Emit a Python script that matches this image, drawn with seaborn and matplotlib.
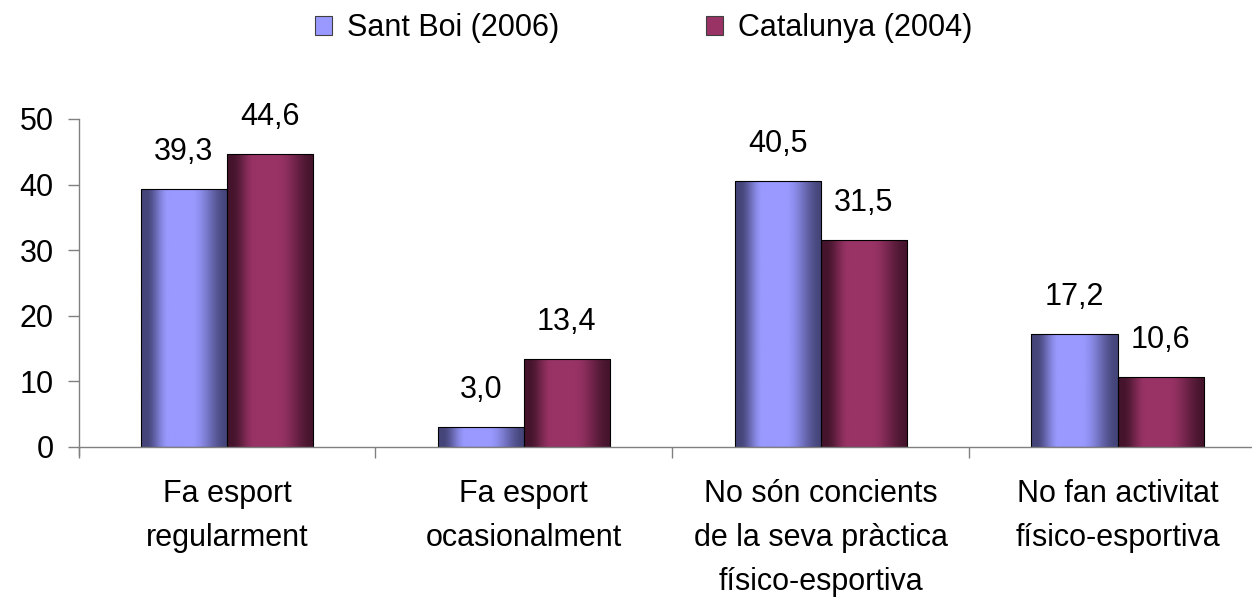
import numpy as np
import pandas as pd
import matplotlib
matplotlib.use("Agg")
import matplotlib.pyplot as plt
import seaborn as sns
from matplotlib.colors import LinearSegmentedColormap
from matplotlib.patches import Rectangle

categories = ["Fa esport\nregularment", "Fa esport\nocasionalment",
              "No són concients\nde la seva pràctica\nfísico-esportiva",
              "No fan activitat\nfísico-esportiva"]
series = ["Sant Boi (2006)", "Catalunya (2004)"]
sant_boi = [39.3, 3.0, 40.5, 17.2]
catalunya = [44.6, 13.4, 31.5, 10.6]
colors = ["#9999FF", "#993366"]
dark = ["#45457a", "#45142c"]

df = pd.DataFrame({
    "cat": categories * 2,
    "serie": [series[0]] * 4 + [series[1]] * 4,
    "val": sant_boi + catalunya,
})

sns.set_theme(style="white")
plt.rcParams["font.family"] = ["Liberation Sans", "DejaVu Sans"]
plt.rcParams["text.color"] = "black"
plt.rcParams["xtick.color"] = "black"
plt.rcParams["ytick.color"] = "black"

FS = 22

fig = plt.figure(figsize=(12.52, 6.02), dpi=100)
ax = fig.add_axes([0.0627, 0.2575, 0.9485, 0.545])

sns.barplot(data=df, x="cat", y="val", hue="serie", order=categories,
            hue_order=series, palette=colors, width=0.58, ax=ax,
            edgecolor="black", linewidth=0.8, legend=False)


def smooth(a, b, x):
    s = np.clip((x - a) / (b - a), 0, 1)
    return s * s * (3 - 2 * s)


# horizontal "cylinder" shading: dark at both edges, bright band left of centre
t = np.linspace(0, 1, 256)
profile = smooth(0.05, 0.32, t) * (1 - smooth(0.58, 1.0, t))

for i, p in enumerate(list(ax.patches)):
    k = i // 4
    cmap = LinearSegmentedColormap.from_list("g", [dark[k], colors[k]])
    x0, y0 = p.get_x(), p.get_y()
    w, h = p.get_width(), p.get_height()
    im = ax.imshow(profile[np.newaxis, :], cmap=cmap, vmin=0, vmax=1,
                   extent=[x0, x0 + w, y0, y0 + h], aspect="auto",
                   zorder=p.get_zorder() - 0.1, interpolation="bilinear")
    im.set_clip_path(p)
    p.set_facecolor("none")
    p.set_zorder(p.get_zorder() + 0.2)
    txt = f"{h:.1f}".replace(".", ",")
    ax.annotate(txt, (x0 + w / 2, y0 + h), xytext=(0, 21), textcoords="offset points",
                ha="center", va="baseline", fontsize=FS, color="black")

ax.set_xlim(-0.5, 3.5)
ax.set_ylim(0, 50)
ax.set_yticks([0, 10, 20, 30, 40, 50])
ax.set_xlabel("")
ax.set_ylabel("")
ax.set_xticks(range(4))
ax.set_xticklabels(categories, fontsize=FS, linespacing=1.6)
ax.set_xticks([-0.5, 0.5, 1.5, 2.5, 3.5], minor=True)
ax.tick_params(axis="x", which="major", length=0, pad=23)
ax.tick_params(axis="x", which="minor", length=8, color="#808080", width=1, direction="out", bottom=True)
ax.tick_params(axis="y", length=8, color="#808080", width=1, direction="out", left=True,
               labelsize=FS, pad=10, labelcolor="black")
for s in ["top", "right"]:
    ax.spines[s].set_visible(False)
for s in ["left", "bottom"]:
    ax.spines[s].set_color("#808080")
    ax.spines[s].set_linewidth(1)
ax.spines["left"].set_bounds(-1.2, 50)
ax.set_ylim(0, 50)

handles = [Rectangle((0, 0), 1, 1, facecolor=c, edgecolor="#404040", linewidth=0.8) for c in colors]
fig.legend(handles, series, loc="center", bbox_to_anchor=(0.514, 0.953), ncol=2,
           frameon=False, fontsize=FS, handlelength=0.55, handleheight=0.55,
           handletextpad=0.5, columnspacing=4.8, labelcolor="black")

fig.savefig("out.png", dpi=100)
